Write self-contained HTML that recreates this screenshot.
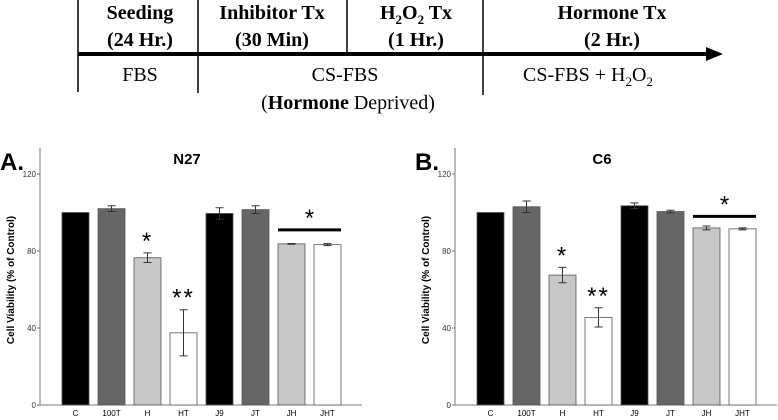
<!DOCTYPE html>
<html><head><meta charset="utf-8"><style>
body{margin:0;background:#fff}
svg{display:block}
.tl{font-family:"Liberation Serif",serif;font-size:20px;fill:#000}
.ax{font-family:"Liberation Sans",sans-serif}
</style></head><body>
<svg id="s" width="778" height="420" viewBox="0 0 778 420">
<g>
<line x1="78" y1="0" x2="78" y2="92" stroke="#000" stroke-width="1.5"/>
<line x1="198" y1="0" x2="198" y2="93" stroke="#000" stroke-width="1.5"/>
<line x1="347" y1="0" x2="347" y2="53" stroke="#000" stroke-width="1.5"/>
<line x1="483" y1="0" x2="483" y2="95" stroke="#000" stroke-width="1.5"/>
<line x1="78" y1="54" x2="708" y2="54" stroke="#000" stroke-width="4"/>
<polygon points="706,47 723,54 706,61" fill="#000"/>
<text class="tl" x="140" y="19" text-anchor="middle" font-weight="bold">Seeding</text>
<text class="tl" x="140" y="46" text-anchor="middle" font-weight="bold">(24 Hr.)</text>
<text class="tl" x="272" y="19" text-anchor="middle" font-weight="bold">Inhibitor Tx</text>
<text class="tl" x="272" y="46" text-anchor="middle" font-weight="bold">(30 Min)</text>
<text class="tl" x="416" y="19" text-anchor="middle" font-weight="bold">H<tspan font-size="13" dy="5">2</tspan><tspan dy="-5">O</tspan><tspan font-size="13" dy="5">2</tspan><tspan dy="-5"> Tx</tspan></text>
<text class="tl" x="416" y="46" text-anchor="middle" font-weight="bold">(1 Hr.)</text>
<text class="tl" x="612" y="19" text-anchor="middle" font-weight="bold">Hormone Tx</text>
<text class="tl" x="612" y="46" text-anchor="middle" font-weight="bold">(2 Hr.)</text>
<text class="tl" x="140" y="81" text-anchor="middle">FBS</text>
<text class="tl" x="345" y="81" text-anchor="middle">CS-FBS</text>
<text class="tl" x="348" y="109" text-anchor="middle"><tspan>(</tspan><tspan font-weight="bold">Hormone</tspan><tspan> Deprived)</tspan></text>
<text class="tl" x="588" y="81" text-anchor="middle">CS-FBS + H<tspan font-size="13" dy="5">2</tspan><tspan dy="-5">O</tspan><tspan font-size="13" dy="5">2</tspan></text>
</g>
</svg>
<script>
const categories=["C","100T","H","HT","J9","JT","JH","JHT"];
const valuesA=[100,102,76.5,37.5,99.5,101.5,83.7,83.3];
const errorsA=[0,1.5,2.5,12,3,2,0.2,0.5];
const valuesB=[100,103,67.5,45.5,103.5,100.5,92,91.5];
const errorsB=[0,3,4,5,1.5,0.7,1,0.5];
const ticks=[0,40,80,120];
const starsA=["","","*","**","","","",""];
const starsB=["","","*","**","","","",""];
const groupLineA=91, groupLineB=98;
const fills=["#000","#666","#c8c8c8","#fff","#000","#666","#c8c8c8","#fff"];
const NS="http://www.w3.org/2000/svg";
const svg=document.getElementById('s');
function mk(t,a,p){const e=document.createElementNS(NS,t);for(const k in a)e.setAttribute(k,a[k]);(p||svg).appendChild(e);return e;}
function panel(ax,label,title,vals,errs,stars,gl,name){
  const g=mk('g',{});
  
  
  const y=v=>405-v*231/120;
  const x=i=>ax+22+i*36;
  const bw=27;
  const yl=mk('line',{x1:ax,y1:148,x2:ax,y2:405,stroke:'#777','stroke-width':1},g);
  
  
  const xl=mk('line',{x1:ax-3,y1:405,x2:ax+322,y2:405,stroke:'#777','stroke-width':1},g);
  
  
  ticks.forEach(t=>{
    mk('line',{x1:ax-3,y1:y(t),x2:ax,y2:y(t),stroke:'#777'},g);
    const tt=mk('text',{x:ax-4,y:y(t)+3,'text-anchor':'end','font-size':8,class:'ax',fill:'#333'},g);
    tt.textContent=t;
    
    
  });
  const yt=mk('text',{transform:`translate(${ax-26},280) rotate(-90)`,'text-anchor':'middle','font-size':10,'font-weight':'bold',class:'ax'},g);
  yt.textContent='Cell Viability (% of Control)';
  
  
  const lb=mk('text',{x:ax-40,y:170,'font-size':24,'font-weight':'bold',class:'ax'},g);
  lb.textContent=label;
  
  
  const ti=mk('text',{x:ax+147,y:164,'text-anchor':'middle','font-size':15,'font-weight':'bold',class:'ax'},g);
  ti.textContent=title;
  
  
  vals.forEach((v,i)=>{
    const r=mk('rect',{x:x(i),y:y(v),width:bw,height:405-y(v),fill:fills[i],stroke:'#555','stroke-width':0.8},g);
    
    
    const cx=x(i)+bw/2,e=errs[i];
    if(e>0){
      const eb=mk('path',{d:`M${cx-4},${y(v+e)}H${cx+4}M${cx},${y(v+e)}V${y(v-e)}M${cx-4},${y(v-e)}H${cx+4}`,stroke:'#333','stroke-width':1,fill:'none'},g);
      
      
    }
    const xt=mk('text',{x:cx,y:416,'text-anchor':'middle','font-size':8,class:'ax'},g);
    xt.textContent=categories[i];
    
    
    if(stars[i]){
      const st=mk('text',{x:cx,y:y(v+e)-4,'text-anchor':'middle','font-size':24,class:'ax','letter-spacing':2},g);
      st.textContent=stars[i];
      
      
    }
  });
  const l=mk('line',{x1:x(6),y1:y(gl),x2:x(7)+bw,y2:y(gl),stroke:'#000','stroke-width':3},g);
  
  
  const gs=mk('text',{x:(x(6)+x(7)+bw)/2,y:y(gl)-4,'text-anchor':'middle','font-size':24,class:'ax'},g);
  gs.textContent='*';
  
  
}
panel(40,'A.','N27',valuesA,errorsA,starsA,groupLineA,'panel-a-n27');
panel(455,'B.','C6',valuesB,errorsB,starsB,groupLineB,'panel-b-c6');
</script>
</body></html>
